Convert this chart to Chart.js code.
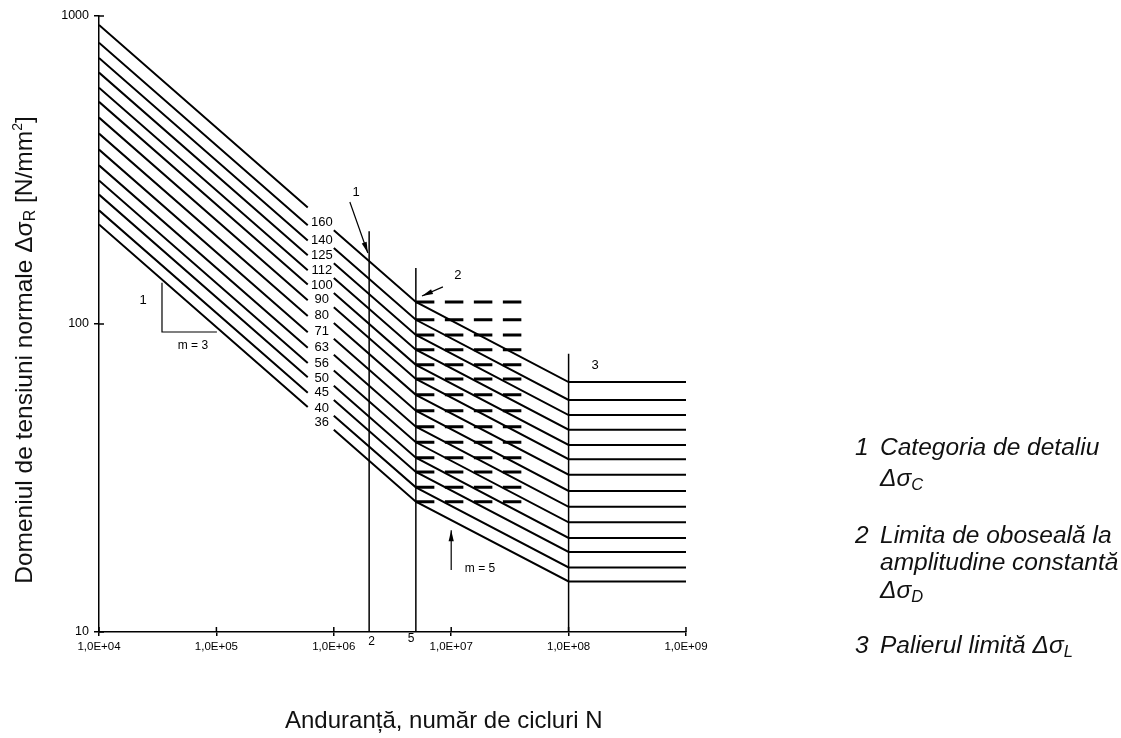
<!DOCTYPE html>
<html><head><meta charset="utf-8">
<script src="https://cdn.jsdelivr.net/npm/chart.js@4.4.0/dist/chart.umd.min.js"></script>
<style>html,body{margin:0;padding:0;background:#fff;}#wrap{position:relative;width:1121px;height:738px;}</style>
</head><body><div id="wrap"><canvas id="c"></canvas></div>
<script>
// ---- data ----
const categories   = [160,140,125,112,100,90,80,71,63,56,50,45,40,36];
const stressAt1e4  = [935.7,818.7,731.0,655.0,584.8,526.3,467.8,415.2,368.4,327.5,292.4,263.2,233.9,210.5];
const stressAt6e5  = [239.0,209.1,186.7,167.3,149.4,134.4,119.5,106.1,94.1,83.7,74.7,67.2,59.8,53.8];
const stressAt1e6  = [201.6,176.4,157.5,141.1,126.0,113.4,100.8,89.5,79.4,70.6,63.0,56.7,50.4,45.4];
const stressD      = [117.9,103.2,92.1,82.5,73.7,66.3,58.9,52.3,46.4,41.3,36.8,33.1,29.5,26.5]; // at N = 5e6
const stressL      = [64.8,56.7,50.6,45.4,40.5,36.4,32.4,28.7,25.5,22.7,20.2,18.2,16.2,14.6];   // from N = 1e8
const cyclesBreak  = [1e4, 6e5, 7.8e5, 1e6, 5e6, 1e8, 1e9];
const dashEndN     = 4e7;
const vertN        = [2e6, 5e6, 1e8];
const vertTop      = [200, 152, 80];
const xTicks       = [1e4,1e5,1e6,1e7,1e8,1e9];
const xTickLabels  = ['1,0E+04','1,0E+05','1,0E+06','1,0E+07','1,0E+08','1,0E+09'];
const yTicks       = [10,100,1000];
const yTickLabels  = ['10','100','1000'];
const slopeN       = [3.44e4, 3.44e4, 1.01e5];
const slopeS       = [136, 94.2, 94.2];
const arrowFromN   = [1.37e6, 8.5e6, 1e7];
const arrowFromS   = [249, 132, 15.9];
const arrowToN     = [1.95e6, 5.64e6, 1e7];
const arrowToS     = [170, 123.3, 21.4];
const noteText     = ['1','2','3','1','m = 3','m = 5'];
const noteN        = [1.55e6, 1.14e7, 1.68e8, 2.37e4, 6.31e4, 1.76e7];
const noteS        = [268, 144, 73.6, 119.7, 84.9, 16.1];
const axisMarkText = ['2','5'];
const axisMarkN    = [2.1e6, 4.55e6];

const FONT = "'Liberation Sans', Arial, sans-serif";
const datasets = [];
const base = {borderColor:'#000', pointRadius:0, fill:false, tension:0, spanGaps:false};
categories.forEach((c,i)=>{
  const ys = [stressAt1e4[i], stressAt6e5[i], null, stressAt1e6[i], stressD[i], stressL[i], stressL[i]];
  datasets.push(Object.assign({}, base, {borderWidth:2, data: cyclesBreak.map((n,k)=>({x:n, y:ys[k]}))}));
  datasets.push(Object.assign({}, base, {borderWidth:3, borderDash:[18.5,10.5], borderCapStyle:'butt',
    data:[{x:cyclesBreak[4], y:stressD[i]},{x:dashEndN, y:stressD[i]}]}));
});
vertN.forEach((n,i)=>{
  datasets.push(Object.assign({}, base, {borderWidth:1.5, data:[{x:n,y:10},{x:n,y:vertTop[i]}]}));
});
datasets.push(Object.assign({}, base, {borderWidth:1.2, data: slopeN.map((n,k)=>({x:n,y:slopeS[k]}))}));
arrowFromN.forEach((n,i)=>{
  datasets.push(Object.assign({}, base, {borderWidth:1.2, data:[{x:n,y:arrowFromS[i]},{x:arrowToN[i],y:arrowToS[i]}]}));
});

function rich(ctx, x, y, parts, align){
  let w = 0;
  parts.forEach(p=>{ctx.font=p[1]; w += ctx.measureText(p[0]).width;});
  let cx = align==='center' ? x - w/2 : (align==='right' ? x - w : x);
  ctx.textAlign='left'; ctx.textBaseline='alphabetic';
  parts.forEach(p=>{ctx.font=p[1]; ctx.fillText(p[0], cx, y + (p[2]||0)); cx += ctx.measureText(p[0]).width;});
  return w;
}

const decor = {
  id:'decor',
  afterDatasetsDraw(chart){
    const ctx = chart.ctx, xs = chart.scales.x, ys = chart.scales.y, ca = chart.chartArea;
    ctx.save();
    ctx.fillStyle = '#000'; ctx.strokeStyle = '#000';
    // inward tick marks
    ctx.lineWidth = 1.5;
    xTicks.forEach(v=>{const x = xs.getPixelForValue(v); ctx.beginPath(); ctx.moveTo(x, ca.bottom); ctx.lineTo(x, ca.bottom-5); ctx.stroke();});
    yTicks.forEach(v=>{const y = ys.getPixelForValue(v); ctx.beginPath(); ctx.moveTo(ca.left, y); ctx.lineTo(ca.left+5, y); ctx.stroke();});
    // arrow heads
    arrowFromN.forEach((n,i)=>{
      const x0 = xs.getPixelForValue(n), y0 = ys.getPixelForValue(arrowFromS[i]);
      const x1 = xs.getPixelForValue(arrowToN[i]), y1 = ys.getPixelForValue(arrowToS[i]);
      const a = Math.atan2(y1-y0, x1-x0), L = 11, H = 2.6;
      ctx.beginPath();
      ctx.moveTo(x1, y1);
      ctx.lineTo(x1 - L*Math.cos(a) + H*Math.sin(a), y1 - L*Math.sin(a) - H*Math.cos(a));
      ctx.lineTo(x1 - L*Math.cos(a) - H*Math.sin(a), y1 - L*Math.sin(a) + H*Math.cos(a));
      ctx.closePath(); ctx.fill();
    });
    // category labels in the gap
    ctx.font = '13px ' + FONT; ctx.textAlign = 'center'; ctx.textBaseline = 'middle';
    const labN = Math.sqrt(cyclesBreak[1]*cyclesBreak[3]);
    categories.forEach((c,i)=>{
      const s = Math.sqrt(stressAt6e5[i]*stressAt1e6[i]);
      ctx.fillText(String(c), xs.getPixelForValue(labN)+1, ys.getPixelForValue(s)+4);
    });
    // notes
    noteText.forEach((t,i)=>{
      ctx.font = (t.length>1 ? '12px ' : '13px ') + FONT;
      ctx.fillText(t, xs.getPixelForValue(noteN[i]), ys.getPixelForValue(noteS[i]));
    });
    axisMarkText.forEach((t,i)=>{
      ctx.font = '12px ' + FONT;
      ctx.fillText(t, xs.getPixelForValue(axisMarkN[i]), ca.bottom + (i===0 ? 10 : 7));
    });
    // axis titles
    ctx.fillStyle = '#111';
    const TF = '24px ' + FONT, TS = '16px ' + FONT;
    rich(ctx, 285, 728, [['Anduranță, număr de cicluri N', TF]], 'left');
    ctx.save();
    ctx.translate(32, 350);
    ctx.rotate(-Math.PI/2);
    const YF = '24.5px ' + FONT;
    rich(ctx, 0, 0, [['Domeniul de tensiuni normale ', YF], ['Δσ', YF], ['R', TS, 3], [' [N/mm', YF], ['2', '14px '+FONT, -10], [']', YF]], 'center');
    ctx.restore();
    // key on the right
    const IF = 'italic 24.5px ' + FONT, IS = 'italic 16.5px ' + FONT;
    const x0 = 855, x1 = 880;
    rich(ctx, x0, 455, [['1', IF]]); rich(ctx, x1, 455, [['Categoria de detaliu', IF]]);
    rich(ctx, x1, 486, [['Δσ', IF], ['C', IS, 4]]);
    rich(ctx, x0, 543, [['2', IF]]); rich(ctx, x1, 543, [['Limita de oboseală la', IF]]);
    rich(ctx, x1, 570, [['amplitudine constantă', IF]]);
    rich(ctx, x1, 598, [['Δσ', IF], ['D', IS, 4]]);
    rich(ctx, x0, 653, [['3', IF]]); rich(ctx, x1, 653, [['Palierul limită Δσ', IF], ['L', IS, 4]]);
    ctx.restore();
  }
};

new Chart(document.getElementById('c'), {
  type:'line',
  data:{datasets},
  options:{
    responsive:true, maintainAspectRatio:false, animation:false, devicePixelRatio:1,
    layout:{padding:{left:0, top:16, right:435, bottom:0}},
    plugins:{legend:{display:false}, tooltip:{enabled:false}},
    elements:{line:{borderJoinStyle:'miter'}},
    scales:{
      x:{type:'logarithmic', min:1e4, max:1e9,
        afterBuildTicks:s=>{s.ticks = xTicks.map(v=>({value:v, major:true}));},
        afterFit:s=>{s.height = 106;},
        ticks:{callback:(v,i)=>xTickLabels[i], autoSkip:false, maxRotation:0, padding:4, color:'#000', font:{family:FONT, size:11.5}},
        grid:{drawOnChartArea:false, drawTicks:true, tickLength:4, color:'#000', lineWidth:1.5},
        border:{display:true, color:'#000', width:1.5}},
      y:{type:'logarithmic', min:10, max:1000,
        afterBuildTicks:s=>{s.ticks = yTicks.map(v=>({value:v, major:true}));},
        afterFit:s=>{s.width = 99;},
        ticks:{callback:(v,i)=>yTickLabels[i], autoSkip:false, padding:5, color:'#000', font:{family:FONT, size:12.5}},
        grid:{drawOnChartArea:false, drawTicks:true, tickLength:5, color:'#000', lineWidth:1.5},
        border:{display:true, color:'#000', width:1.5}}
    }
  },
  plugins:[decor]
});
</script></body></html>
